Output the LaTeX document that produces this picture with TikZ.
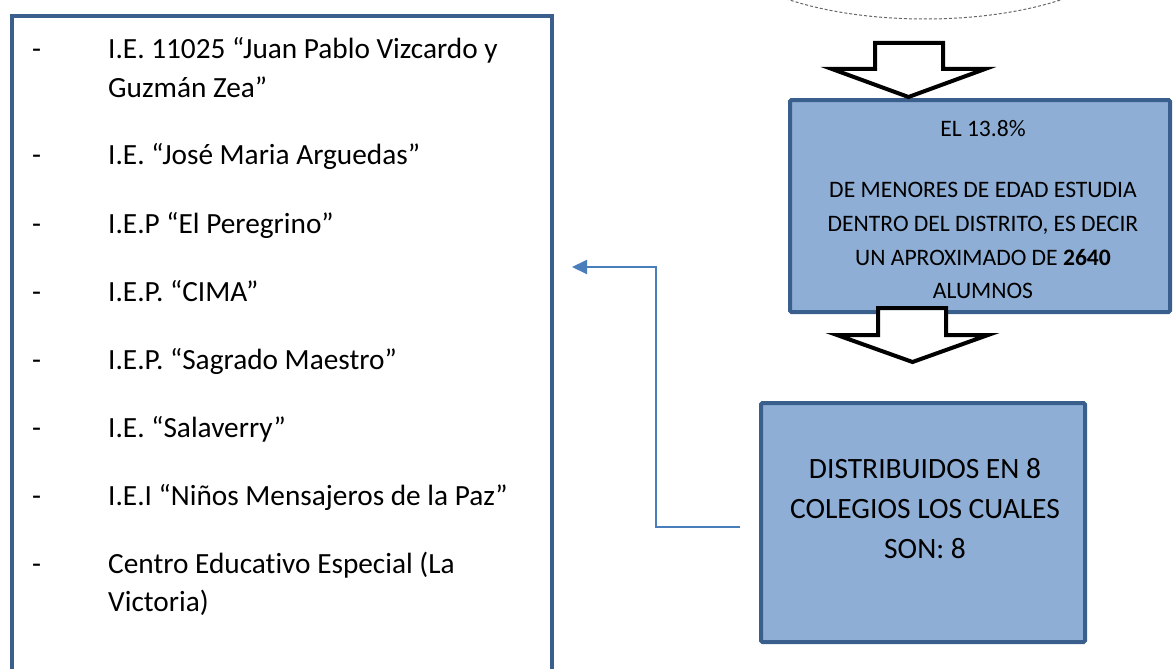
\documentclass[tikz,border=0pt]{standalone}
\usepackage{fontspec}
\setmainfont{Carlito}[Ligatures={NoCommon}]
\usetikzlibrary{arrows.meta}
\definecolor{boxfill}{HTML}{8EAED6}
\definecolor{boxline}{HTML}{3A5F8C}
\definecolor{conn}{HTML}{4A7EBB}
\tikzset{
  bluebox/.style={draw=boxline, line width=4pt, fill=boxfill, rounded corners=1.5pt, inner sep=0pt},
  blockarrow/.style={draw=black, line width=4pt, fill=white, line join=miter},
  listtxt/.style={anchor=base west, inner sep=0pt, font=\fontsize{29.3}{38}\selectfont},
  btxt/.style={anchor=base, inner sep=0pt, font=\fontsize{23.6}{34}\selectfont},
  ctxt/.style={anchor=base, inner sep=0pt, font=\fontsize{29.5}{40}\selectfont},
  connector/.style={draw=conn, line width=2pt, -{Triangle[length=15pt,width=14pt]}},
}
\begin{document}
\begin{tikzpicture}[x=1pt,y=-1pt]
\useasboundingbox (0,0) rectangle (1175,669);
\clip (0,0) rectangle (1175,669);
% dashed ellipse at the top
\draw[gray!80!black, line width=1pt, dash pattern=on 3pt off 2pt] (925,-60) ellipse [x radius=208, y radius=79];
% left list box
\node[draw=boxline, line width=4pt, minimum width=540, minimum height=720, anchor=north west, inner sep=0pt] (list) at (10,14) {};
\foreach \y/\t [count=\i] in {59/{I.E. 11025 “Juan Pablo Vizcardo y},
  164/{I.E. “José Maria Arguedas”},
  233/{I.E.P “El Peregrino”},
  301/{I.E.P. “CIMA”},
  369/{I.E.P. “Sagrado Maestro”},
  437/{I.E. “Salaverry”},
  505/{I.E.I “Niños Mensajeros de la Paz”},
  573/{Centro Educativo Especial (La}} {
  \node[listtxt] (dash\i) at (32,\y) {-};
  \node[listtxt] (item\i) at (108,\y) {\t};
}
\node[listtxt] (item1b) at (108,97) {Guzmán Zea”};
\node[listtxt] (item8b) at (108,611) {Victoria)};
% box 1
\node[bluebox, minimum width=380, minimum height=212] (b1) at (980,206) {};
\node[btxt] (b1l1) at (983,136) {EL 13.8\%};
\node[btxt] (b1l2) at (983,197) {DE MENORES DE EDAD ESTUDIA};
\node[btxt] (b1l3) at (983,231) {DENTRO DEL DISTRITO, ES DECIR};
\node[btxt] (b1l4) at (983,265) {UN APROXIMADO DE \textbf{2640}};
\node[btxt] (b1l5) at (983,298) {ALUMNOS};
% block arrows
\draw[blockarrow] (875,43) -- (943,43) -- (943,69) -- (985,69) -- (908.5,97) -- (832,69) -- (875,69) -- cycle;
\draw[blockarrow] (878,308) -- (946,308) -- (946,335) -- (988,335) -- (912.5,362) -- (837,335) -- (878,335) -- cycle;
% box 2
\node[bluebox, minimum width=324, minimum height=239] (b2) at (923,522.5) {};
\node[ctxt] (b2l1) at (925,478) {DISTRIBUIDOS EN 8};
\node[ctxt] (b2l2) at (925,518) {COLEGIOS LOS CUALES};
\node[ctxt] (b2l3) at (925,558) {SON: 8};
% connector
\coordinate (cstart) at (740,527);
\coordinate (cend) at (572,267);
\draw[connector] (cstart) -- (656,527) -- (656,267) -- (cend);
\end{tikzpicture}
\end{document}
